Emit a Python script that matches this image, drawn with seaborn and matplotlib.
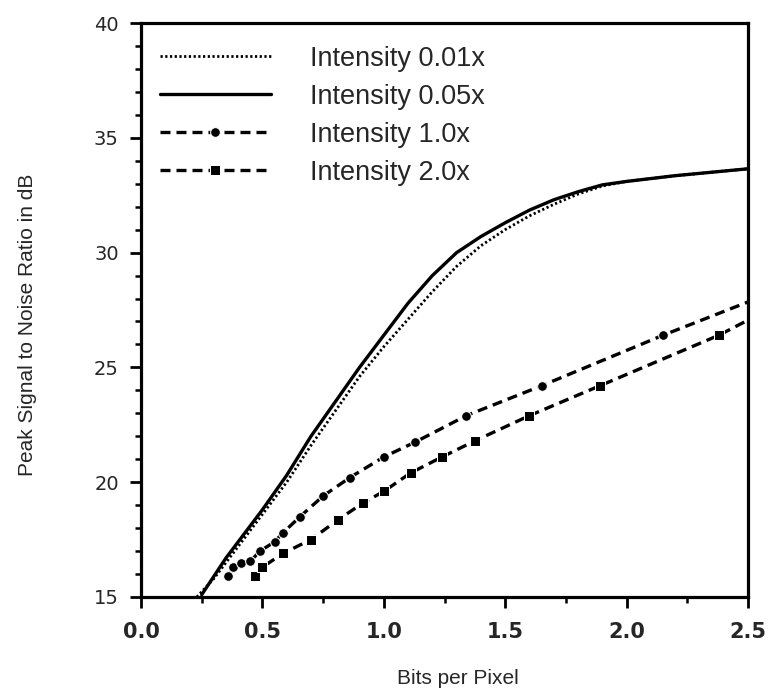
import matplotlib
matplotlib.use("Agg")
import matplotlib.pyplot as plt
import seaborn as sns
import pandas as pd
from matplotlib.ticker import MultipleLocator, FormatStrFormatter

# ---- data ----
bpp_001 = [0.23, 0.30, 0.35, 0.40, 0.50, 0.60, 0.70, 0.80, 0.90, 1.00, 1.10, 1.20,
           1.30, 1.40, 1.50, 1.60, 1.70, 1.80, 1.90, 2.00, 2.20, 2.50]
psnr_001 = [15.0, 15.8, 16.5, 17.2, 18.6, 20.0, 21.6, 23.1, 24.6, 25.9, 27.1, 28.3,
            29.4, 30.3, 31.0, 31.6, 32.1, 32.55, 32.9, 33.1, 33.35, 33.65]

bpp_005 = [0.25, 0.30, 0.35, 0.40, 0.50, 0.60, 0.70, 0.80, 0.90, 1.00, 1.10, 1.20,
           1.30, 1.40, 1.50, 1.60, 1.70, 1.80, 1.90, 2.00, 2.20, 2.50]
psnr_005 = [15.1, 15.9, 16.7, 17.4, 18.8, 20.3, 22.0, 23.5, 25.0, 26.4, 27.8, 29.0,
            30.0, 30.7, 31.3, 31.85, 32.3, 32.65, 32.95, 33.1, 33.35, 33.65]

bpp_1 = [0.36, 0.38, 0.41, 0.45, 0.49, 0.55, 0.585, 0.655, 0.75, 0.86, 1.00, 1.13,
         1.34, 1.65, 2.15, 2.50]
psnr_1 = [15.9, 16.3, 16.5, 16.55, 17.0, 17.4, 17.8, 18.5, 19.4, 20.2, 21.1, 21.75,
          22.9, 24.2, 26.4, 27.85]

bpp_2 = [0.47, 0.50, 0.585, 0.70, 0.81, 0.915, 1.00, 1.11, 1.24, 1.375, 1.60, 1.89,
         2.38, 2.50]
psnr_2 = [15.9, 16.3, 16.9, 17.5, 18.35, 19.1, 19.6, 20.4, 21.1, 21.8, 22.9, 24.2,
          26.4, 27.06]

labels = ["Intensity 0.01x", "Intensity 0.05x", "Intensity 1.0x", "Intensity 2.0x"]
x_ticks = [0.0, 0.5, 1.0, 1.5, 2.0, 2.5]
y_ticks = [15, 20, 25, 30, 35, 40]

sns.set_style("ticks")
plt.rcParams["font.family"] = ["Liberation Sans", "DejaVu Sans"]

fig = plt.figure(figsize=(7.74, 6.95), dpi=100)
ax = fig.add_axes([141 / 774, 1 - 597 / 695, 607 / 774, 574 / 695])

df1 = pd.DataFrame({"x": bpp_001, "y": psnr_001})
df2 = pd.DataFrame({"x": bpp_005, "y": psnr_005})
df3 = pd.DataFrame({"x": bpp_1, "y": psnr_1})
df4 = pd.DataFrame({"x": bpp_2, "y": psnr_2})

sns.lineplot(data=df1, x="x", y="y", ax=ax, color="black", lw=2.0,
             linestyle=(0, (0.8, 0.9)), label=labels[0], sort=False, estimator=None)
sns.lineplot(data=df2, x="x", y="y", ax=ax, color="black", lw=2.4,
             linestyle="-", label=labels[1], sort=False, estimator=None)
sns.lineplot(data=df3, x="x", y="y", ax=ax, color="black", lw=2.4,
             linestyle=(0, (3.0, 1.8)), marker="o", markersize=7,
             markevery=list(range(len(bpp_1) - 1)), label=labels[2],
             sort=False, estimator=None)
sns.lineplot(data=df4, x="x", y="y", ax=ax, color="black", lw=2.4,
             linestyle=(0, (3.0, 1.8)), marker="s", markersize=6.5,
             markevery=list(range(len(bpp_2) - 1)), label=labels[3],
             sort=False, estimator=None)

ax.set_xlim(0, 2.5)
ax.set_ylim(15, 40)
ax.set_xticks(x_ticks)
ax.set_yticks(y_ticks)
ax.xaxis.set_minor_locator(MultipleLocator(0.25))
ax.yaxis.set_minor_locator(MultipleLocator(1))
ax.xaxis.set_major_formatter(FormatStrFormatter("%.1f"))

for s in ax.spines.values():
    s.set_linewidth(2.3)
    s.set_color("black")
ax.tick_params(axis="both", which="major", direction="out", length=8, width=2,
               color="black")
ax.tick_params(axis="both", which="minor", direction="out", length=4, width=1.8,
               color="black")
ax.tick_params(axis="x", which="major", pad=10)
ax.tick_params(axis="y", which="major", pad=8)
for t in ax.get_xticklabels():
    t.set_fontfamily("DejaVu Sans")
    t.set_fontweight("bold")
    t.set_fontsize(15)
for t in ax.get_yticklabels():
    t.set_fontfamily("DejaVu Sans")
    t.set_fontsize(14)

ax.set_xlabel("Bits per Pixel", fontsize=15)
ax.set_ylabel("Peak Signal to Noise Ratio in dB", fontsize=15)
ax.xaxis.set_label_coords(0.522, -0.126)
ax.yaxis.set_label_coords(-0.171, 0.474)

leg = ax.legend(loc="upper left", bbox_to_anchor=(0.031, 0.96), frameon=False,
                fontsize=19.5, handlelength=4.1, handletextpad=1.45,
                labelspacing=0.44, borderpad=0, borderaxespad=0, numpoints=1)

fig.savefig("out.png", dpi=100, facecolor="white")
